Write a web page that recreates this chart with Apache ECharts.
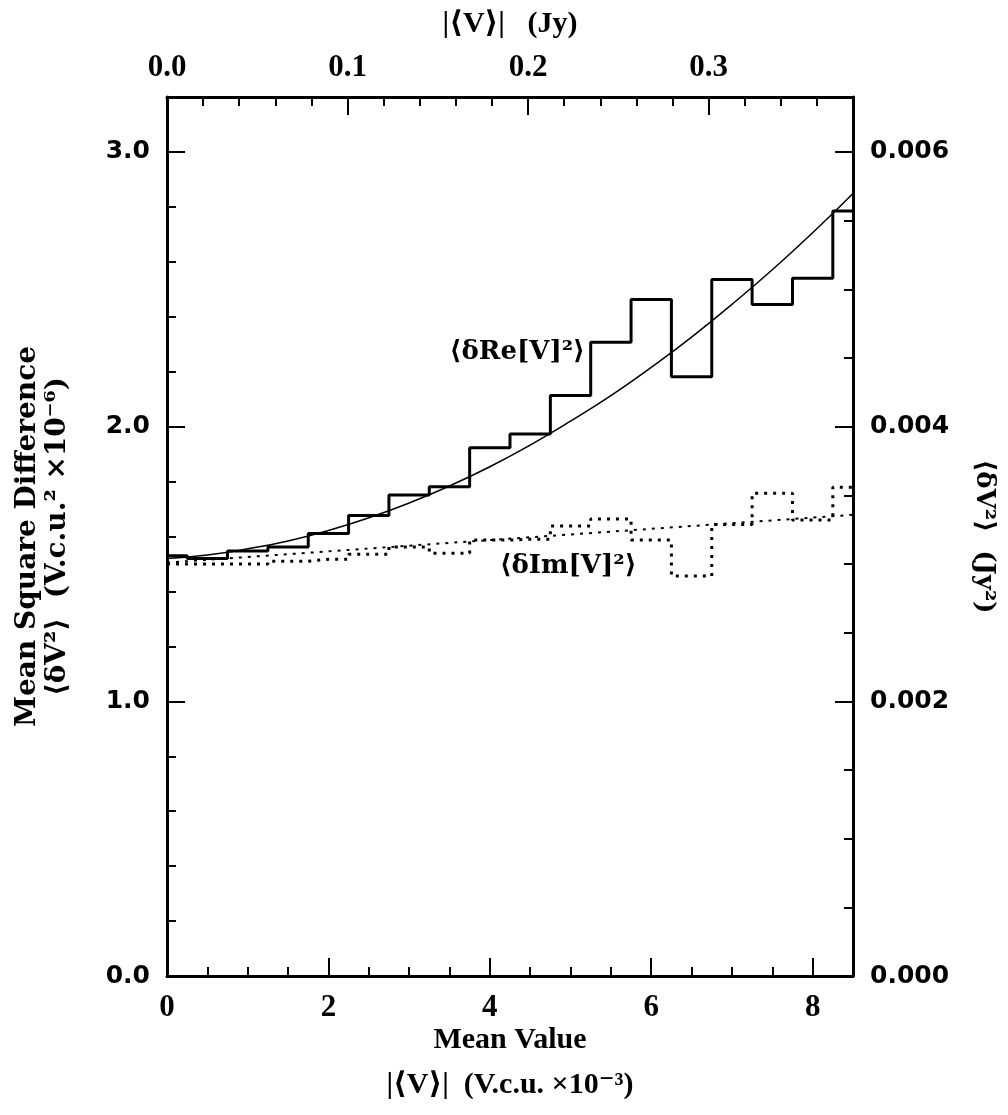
<!DOCTYPE html>
<html>
<head>
<meta charset="utf-8">
<title>Mean Square Difference</title>
<script src="https://cdn.jsdelivr.net/npm/echarts@6/dist/echarts.min.js"></script>
<style>
  html, body { margin: 0; padding: 0; background: #fff; }
  #chart { width: 1008px; height: 1115px; }
</style>
</head>
<body>
<div id="chart"></div>
<script>
// 数据：每个区间的中心值 (V.c.u. ×10^-3)
const binCenters = [0, 0.5, 1, 1.5, 2, 2.5, 3, 3.5, 4, 4.5, 5, 5.5, 6, 6.5, 7, 7.5, 8, 8.5];
// <δRe[V]^2> 直方图
const reMeanSq = [1.53, 1.52, 1.547, 1.562, 1.611, 1.676, 1.751, 1.781, 1.923, 1.973, 2.113, 2.307, 2.463, 2.182, 2.536, 2.445, 2.54, 2.785];
// <δIm[V]^2> 直方图
const imMeanSq = [1.50, 1.50, 1.50, 1.51, 1.517, 1.535, 1.562, 1.539, 1.587, 1.59, 1.638, 1.664, 1.587, 1.456, 1.644, 1.757, 1.66, 1.779];
// 拟合曲线
const reFit = [1.52, 1.533, 1.555, 1.584, 1.622, 1.668, 1.722, 1.784, 1.854, 1.933, 2.02, 2.113, 2.216, 2.326, 2.445, 2.571, 2.706, 2.849];
const imFitX = [0, 8.5];
const imFit = [1.505, 1.679];

// 刻度
const bottomTicks = [0, 2, 4, 6, 8];
const topTicks = [0.0, 0.1, 0.2, 0.3];
const leftTicks = [0.0, 1.0, 2.0, 3.0];
const rightTicks = [0.000, 0.002, 0.004, 0.006];

const serif = '"Liberation Serif", "DejaVu Serif", serif';
const wideSerif = '"DejaVu Serif", serif';
const sans = '"DejaVu Sans", sans-serif';

const chart = echarts.init(document.getElementById('chart'));

const frameLine = { show: true, onZero: false, lineStyle: { color: '#000', width: 3 } };
const majorTick = (vals) => ({ show: true, inside: true, length: 18, customValues: vals, lineStyle: { color: '#000', width: 2 } });
const minorAxisTick = { show: true, inside: true, length: 9, lineStyle: { color: '#000', width: 2 } };

function minorAxis(base) {
    return Object.assign({
        type: 'value',
        axisLine: { show: false, onZero: false },
        axisLabel: { show: false },
        axisTick: minorAxisTick,
        splitLine: { show: false }
    }, base);
}

chart.setOption({
    animation: false,
    backgroundColor: '#fff',
    grid: { left: 167, right: 155, top: 97, bottom: 139, containLabel: false, outerBoundsMode: 'none' },
    xAxis: [
        {
            type: 'value', position: 'bottom', min: 0, max: 8.5,
            axisLine: frameLine,
            axisTick: majorTick(bottomTicks),
            axisLabel: {
                customValues: bottomTicks, color: '#000', margin: 16,
                fontFamily: serif, fontWeight: 'bold', fontSize: 31,
                formatter: v => String(v)
            },
            splitLine: { show: false },
            name: 'Mean Value\n|⟨V⟩|  (V.c.u. ×10⁻³)',
            nameLocation: 'middle', nameGap: 42, nameMoveOverlap: false,
            nameTextStyle: { color: '#000', fontFamily: serif, fontWeight: 'bold', fontSize: 30, lineHeight: 45 }
        },
        {
            type: 'value', position: 'top', min: 0, max: 0.38,
            axisLine: frameLine,
            axisTick: majorTick(topTicks),
            axisLabel: {
                customValues: topTicks, color: '#000', margin: 14,
                fontFamily: serif, fontWeight: 'bold', fontSize: 31,
                formatter: v => v.toFixed(1)
            },
            splitLine: { show: false },
            name: '|⟨V⟩|   (Jy)',
            nameLocation: 'middle', nameGap: 58,
            nameTextStyle: { color: '#000', fontFamily: serif, fontWeight: 'bold', fontSize: 30 }
        },
        minorAxis({ position: 'bottom', min: 0, max: 8.5, interval: 0.5 }),
        minorAxis({ position: 'top', min: 0, max: 0.38, interval: 0.02 })
    ],
    yAxis: [
        {
            type: 'value', position: 'left', min: 0, max: 3.2,
            axisLine: frameLine,
            axisTick: majorTick(leftTicks),
            axisLabel: {
                customValues: leftTicks, color: '#000', margin: 17,
                fontFamily: sans, fontWeight: 'bold', fontSize: 25,
                formatter: v => v.toFixed(1)
            },
            splitLine: { show: false },
            name: 'Mean Square Difference\n⟨δV²⟩  (V.c.u.² ×10⁻⁶)',
            nameLocation: 'middle', nameGap: 94,
            nameTextStyle: { color: '#000', fontFamily: wideSerif, fontWeight: 'bold', fontSize: 28, lineHeight: 30 }
        },
        {
            type: 'value', position: 'right', min: 0, max: 0.0064,
            axisLine: frameLine,
            axisTick: majorTick(rightTicks),
            axisLabel: {
                customValues: rightTicks, color: '#000', margin: 17,
                fontFamily: sans, fontWeight: 'bold', fontSize: 25,
                formatter: v => v.toFixed(3)
            },
            splitLine: { show: false },
            name: '⟨δV²⟩  (Jy²)',
            nameLocation: 'middle', nameGap: 118, nameRotate: -90,
            nameTextStyle: { color: '#000', fontFamily: wideSerif, fontWeight: 'bold', fontSize: 26 }
        },
        minorAxis({ position: 'left', min: 0, max: 3.2, interval: 0.2 }),
        minorAxis({ position: 'right', min: 0, max: 0.0064, interval: 0.0005 })
    ],
    series: [
        {
            name: 'Re', type: 'line', step: 'middle', symbol: 'none',
            data: binCenters.map((x, i) => [x, reMeanSq[i]]),
            lineStyle: { color: '#000', width: 3 },
            markPoint: {
                symbol: 'circle', symbolSize: 1, itemStyle: { color: 'transparent' },
                label: {
                    show: true, position: 'inside', color: '#000',
                    fontFamily: wideSerif, fontWeight: 'bold', fontSize: 26,
                    formatter: '⟨δRe[V]²⟩'
                },
                data: [{ coord: [4.34, 2.27] }]
            }
        },
        {
            name: 'Im', type: 'line', step: 'middle', symbol: 'none',
            data: binCenters.map((x, i) => [x, imMeanSq[i]]),
            lineStyle: { color: '#000', width: 3, type: [3, 6] },
            markPoint: {
                symbol: 'circle', symbolSize: 1, itemStyle: { color: 'transparent' },
                label: {
                    show: true, position: 'inside', color: '#000',
                    fontFamily: wideSerif, fontWeight: 'bold', fontSize: 26,
                    formatter: '⟨δIm[V]²⟩'
                },
                data: [{ coord: [4.97, 1.49] }]
            }
        },
        {
            name: 'Re fit', type: 'line', smooth: true, symbol: 'none',
            data: binCenters.map((x, i) => [x, reFit[i]]),
            lineStyle: { color: '#000', width: 1.5 }
        },
        {
            name: 'Im fit', type: 'line', symbol: 'none',
            data: imFitX.map((x, i) => [x, imFit[i]]),
            lineStyle: { color: '#000', width: 2, type: [3, 6] }
        }
    ]
});
</script>
</body>
</html>
